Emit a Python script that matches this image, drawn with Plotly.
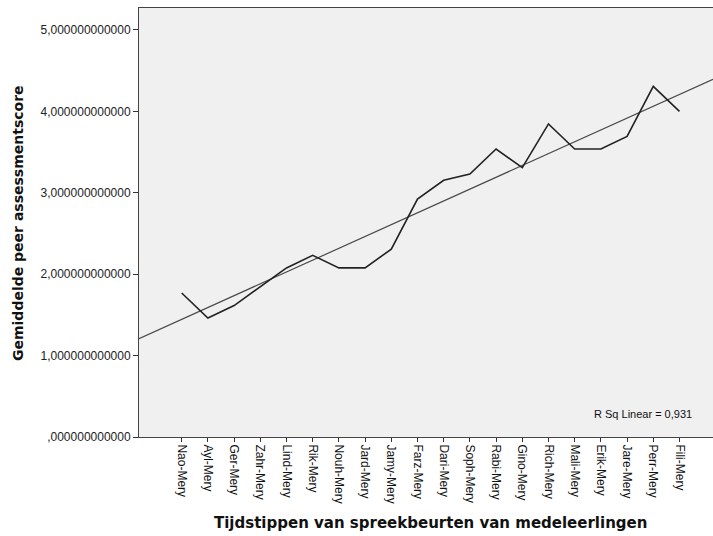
import numpy as np
import plotly.graph_objects as go

categories = ["Nao-Mery", "Ayl-Mery", "Ger-Mery", "Zahr-Mery", "Lind-Mery", "Rik-Mery",
              "Nouh-Mery", "Jard-Mery", "Jamy-Mery", "Farz-Mery", "Dari-Mery", "Soph-Mery",
              "Rabi-Mery", "Gino-Mery", "Rich-Mery", "Mali-Mery", "Erik-Mery", "Jare-Mery",
              "Perr-Mery", "Fili-Mery"]
mean_scores = [1.769, 1.462, 1.615, 1.846, 2.077, 2.231, 2.077, 2.077, 2.308, 2.923,
               3.154, 3.231, 3.538, 3.308, 3.846, 3.538, 3.538, 3.692, 4.308, 4.000]
y_tick_values = [0, 1, 2, 3, 4, 5]
y_tick_labels = [",000000000000", "1,000000000000", "2,000000000000",
                 "3,000000000000", "4,000000000000", "5,000000000000"]

x_idx = np.arange(1, len(categories) + 1)
slope, intercept = np.polyfit(x_idx, mean_scores, 1)
pred = slope * x_idx + intercept
ys = np.array(mean_scores)
r2 = 1 - ((ys - pred) ** 2).sum() / ((ys - ys.mean()) ** 2).sum()

x_range = [-0.63, 21.28]
fit_x = np.array(x_range)
fit_y = slope * fit_x + intercept

W, H = 713, 536
L, T, B = 139, 8, 536 - 437
PW, PH = W - L, H - T - B

fig = go.Figure()
fig.add_trace(go.Scatter(x=fit_x, y=fit_y, mode="lines",
                         line=dict(color="#4a4a4a", width=1.2), hoverinfo="skip"))
fig.add_trace(go.Scatter(x=x_idx, y=mean_scores, mode="lines",
                         line=dict(color="#222222", width=1.6)))

fig.update_layout(
    width=W, height=H,
    margin=dict(l=L, r=0, t=T, b=B, pad=0),
    paper_bgcolor="white", plot_bgcolor="#F0F0F0",
    showlegend=False,
    font=dict(family="Liberation Sans, Arial", color="#111111"),
    xaxis=dict(range=x_range, tickmode="array", tickvals=list(x_idx), ticktext=categories,
               tickangle=90, ticks="outside", ticklen=4, tickcolor="#333",
               tickfont=dict(size=12, family="Liberation Sans, Arial", color="#111"),
               showgrid=False, zeroline=False, showline=True, linecolor="#444",
               linewidth=1, mirror=True),
    yaxis=dict(range=[0, 5.27], tickmode="array", tickvals=y_tick_values,
               ticktext=y_tick_labels, ticks="outside", ticklen=5, tickcolor="#333",
               tickfont=dict(size=12, family="Liberation Sans, Arial", color="#222"),
               showgrid=False, zeroline=False, showline=True, linecolor="#444",
               linewidth=1),
)

def px_x(x):
    return (x - L) / PW

def px_y(y):
    return (H - B - y) / PH

fig.add_annotation(text="R Sq Linear = " + f"{r2:.3f}".replace("0.", "0,"),
                   xref="paper", yref="paper", x=px_x(694), y=px_y(414),
                   xanchor="right", yanchor="middle", showarrow=False,
                   font=dict(size=11, family="Liberation Sans, Arial", color="#111"))
fig.add_annotation(text="<b>Tijdstippen van spreekbeurten van medeleerlingen</b>",
                   xref="paper", yref="paper", x=px_x(430.5), y=px_y(523),
                   xanchor="center", yanchor="middle", showarrow=False,
                   font=dict(size=15, family="DejaVu Sans", color="#111"))
fig.add_annotation(text="<b>Gemiddelde peer assessmentscore</b>",
                   xref="paper", yref="paper", x=px_x(18), y=px_y(223),
                   xanchor="center", yanchor="middle", textangle=-90, showarrow=False,
                   font=dict(size=14, family="DejaVu Sans", color="#111"))

fig.write_html("out.html", config={"displayModeBar": False},
               post_script="document.body.style.margin='0';document.body.style.overflow='hidden';")
